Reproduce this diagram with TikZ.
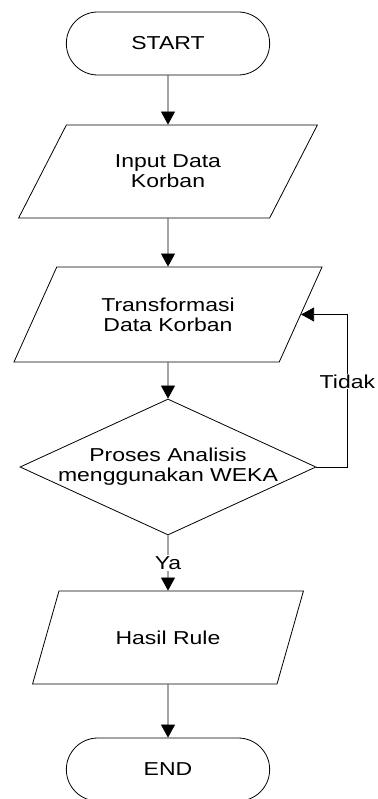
\documentclass[tikz,border=0pt]{standalone}
\usepackage{fontspec}
\setmainfont{Liberation Sans}[FakeStretch=1.23]
\usetikzlibrary{shapes.geometric, shapes.misc, arrows.meta, positioning}
\newcommand{\chartfont}{\fontsize{18.7}{20.3}\selectfont}
\tikzstyle{terminal} = [
  rounded rectangle,
  minimum width=210pt,
  minimum height=63pt,
  text centered,
  draw=black,
  line width=0.8pt,
  font=\chartfont
]
\tikzstyle{io} = [
  trapezium,
  trapezium left angle=56.5,
  trapezium right angle=123.5,
  trapezium stretches=true,
  minimum height=93pt,
  align=center,
  draw=black,
  line width=0.8pt,
  font=\chartfont
]
\tikzstyle{decision} = [
  diamond,
  minimum width=296pt,
  minimum height=136pt,
  inner sep=-10pt,
  aspect=2.18,
  align=center,
  draw=black,
  line width=0.8pt,
  font=\chartfont
]
\tikzstyle{arrow} = [line width=0.8pt, -{Triangle[width=14pt,length=13pt]}, font=\chartfont]
\tikzstyle{answer} = [fill=white, inner sep=1pt]

\begin{document}
\begin{tikzpicture}[node distance=140pt]
    \useasboundingbox (-168pt,43.5pt) rectangle (209pt,-755.5pt);
    \node (start) [terminal] {START};
    \node (input) [io, below of=start, yshift=12pt, minimum width=299pt] {Input Data\\Korban};
    \node (transform) [io, below of=input, yshift=-3pt, minimum width=309pt, minimum height=95pt] {Transformasi\\Data Korban};
    \node (analysis) [decision, below of=transform, yshift=-12.5pt] {Proses Analisis\\menggunakan WEKA};
    \node (result) [io, below of=analysis, yshift=-30.5pt, minimum width=271pt] {Hasil Rule};
    \node (end) [terminal, below of=result, yshift=8pt] {END};

    \draw [arrow] (start) -- (input);
    \draw [arrow] (input) -- (transform);
    \draw [arrow] (transform) -- (analysis);
    \draw [arrow] (analysis) -- node[answer] {Ya} (result);
    \draw [arrow] (analysis.east) -- ++(31pt,0) |- node[answer, pos=0.28] {Tidak} (transform.east);
    \draw [arrow] (result) -- (end);
  \end{tikzpicture}
\end{document}
